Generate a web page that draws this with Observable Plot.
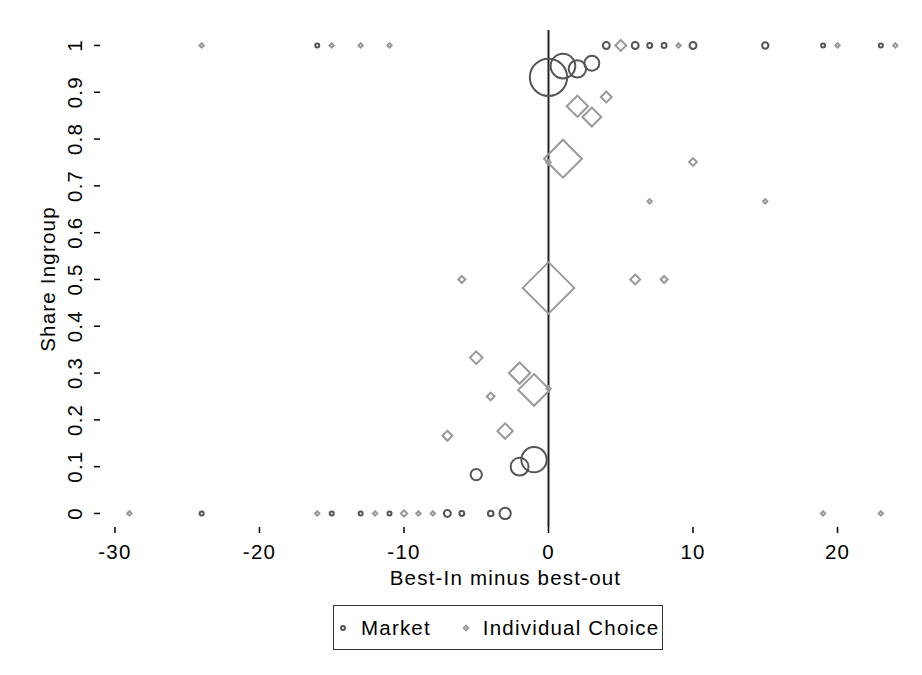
<!DOCTYPE html>
<html>
<head>
<meta charset="utf-8">
<script src="https://cdn.jsdelivr.net/npm/d3@7"></script>
<script src="https://cdn.jsdelivr.net/npm/@observablehq/plot@0.6"></script>
<style>
  html, body { margin: 0; padding: 0; background: #fff; }
  body { width: 922px; height: 675px; position: relative; font-family: "Liberation Sans", Arial, sans-serif; }
  #legend { position: absolute; left: 333px; top: 605px; width: 328px; height: 43px; border: 1.5px solid #333; box-sizing: content-box; display: flex; align-items: center; font-size: 20.5px; letter-spacing: 1.2px; color: #000; }
  #legend .item { display: flex; align-items: center; }
  #legend svg { display: block; }
</style>
</head>
<body>
<div id="chart"></div>
<div id="legend"></div>
<script>
// Market (circles): x = best-in minus best-out, y = share ingroup, n = weight
const marketX = [-16, 4, 6, 7, 8, 10, 15, 19, 23,
                 0, 1, 2, 3,
                 -1, -2, -5,
                 -24, -15, -13, -11, -7, -6, -4, -3];
const marketY = [1, 1, 1, 1, 1, 1, 1, 1, 1,
                 0.932, 0.956, 0.950, 0.962,
                 0.115, 0.100, 0.083,
                 0, 0, 0, 0, 0, 0, 0, 0];
const marketN = [1, 3, 3, 1.5, 1.5, 3, 2.5, 1, 1,
                 87, 38, 19, 14,
                 40, 20, 8,
                 1, 1, 1, 1, 3, 1.5, 2, 8];

// Individual Choice (diamonds)
const indivX = [-24, -15, -13, -11, 5, 9, 20, 24,
                4, 2, 3, 1, 0, 10, 7, 15,
                -6, 0, 6, 8,
                -5, -2, -1, -4, 0, -3, -7,
                -29, -16, -12, -10, -9, -8, 19, 23];
const indivY = [1, 1, 1, 1, 1, 1, 1, 1,
                0.890, 0.870, 0.847, 0.758, 0.750, 0.751, 0.667, 0.667,
                0.5, 0.482, 0.5, 0.5,
                0.333, 0.300, 0.264, 0.250, 0.267, 0.176, 0.166,
                0, 0, 0, 0, 0, 0, 0, 0];
const indivN = [1, 1, 1, 1, 6, 1, 1, 1,
                6, 23, 18, 73, 1, 3, 1, 1,
                2.5, 135, 5, 2.5,
                8, 23, 51, 3, 1, 12, 5,
                1, 1, 1, 2, 1, 1, 1, 1];

const xTicks = [-30, -20, -10, 0, 10, 20];
const yTicks = [0, 0.1, 0.2, 0.3, 0.4, 0.5, 0.6, 0.7, 0.8, 0.9, 1];

const market = marketX.map((x, i) => ({x, y: marketY[i], n: marketN[i]}));
const indiv = indivX.map((x, i) => ({x, y: indivY[i], n: indivN[i]}));

const chart = Plot.plot({
  width: 922,
  height: 595,
  marginLeft: 100,
  marginRight: 12,
  marginTop: 30,
  marginBottom: 68,
  style: {fontFamily: "'Liberation Sans', Arial, sans-serif", fontSize: "20.5px", letterSpacing: "1.2px", color: "#000", background: "#fff"},
  x: {domain: [-31, 25.05]},
  y: {domain: [-0.03, 1.032]},
  r: {type: "sqrt", domain: [0, 100], range: [0, 20]},
  marks: [
    Plot.axisX({ticks: xTicks, tickFormat: d => String(d), tickSize: 6, tickPadding: 11, strokeWidth: 1.5,
      label: "Best-In minus best-out", labelAnchor: "center", labelOffset: 57, labelArrow: false, line: true}),
    Plot.axisY({ticks: yTicks, tickFormat: d => String(d), tickSize: 6, tickPadding: 13, tickRotate: -90, strokeWidth: 1.5,
      label: "Share Ingroup", labelAnchor: "center", labelOffset: 60, labelArrow: false, line: true}),
    Plot.ruleX([0], {stroke: "#222", strokeWidth: 2}),
    Plot.dot(market, {x: "x", y: "y", r: "n", symbol: "circle", stroke: "#555", strokeWidth: 2, fill: "none"}),
    Plot.dot(indiv, {x: "x", y: "y", r: "n", symbol: "diamond2", stroke: "#999", strokeWidth: 2, fill: "none"})
  ]
});
document.getElementById("chart").appendChild(chart);

// Legend
const legend = document.getElementById("legend");
const items = [
  {label: "Market", symbol: "circle", stroke: "#555", gap: 11, lead: 2},
  {label: "Individual Choice", symbol: "diamond2", stroke: "#999", gap: 10, lead: 28}
];
items.forEach(it => {
  const div = document.createElement("div");
  div.className = "item";
  div.style.marginLeft = it.lead + "px";
  const s = d3.create("svg").attr("width", 14).attr("height", 14);
  const sym = it.symbol === "circle" ? d3.symbolCircle : d3.symbolDiamond2;
  s.append("path").attr("d", d3.symbol(sym, Math.PI * 4)()).attr("transform", "translate(7,7)")
    .attr("fill", "none").attr("stroke", it.stroke).attr("stroke-width", 2);
  div.appendChild(s.node());
  const t = document.createElement("span");
  t.textContent = it.label;
  t.style.marginLeft = it.gap + "px";
  div.appendChild(t);
  legend.appendChild(div);
});
</script>
</body>
</html>
